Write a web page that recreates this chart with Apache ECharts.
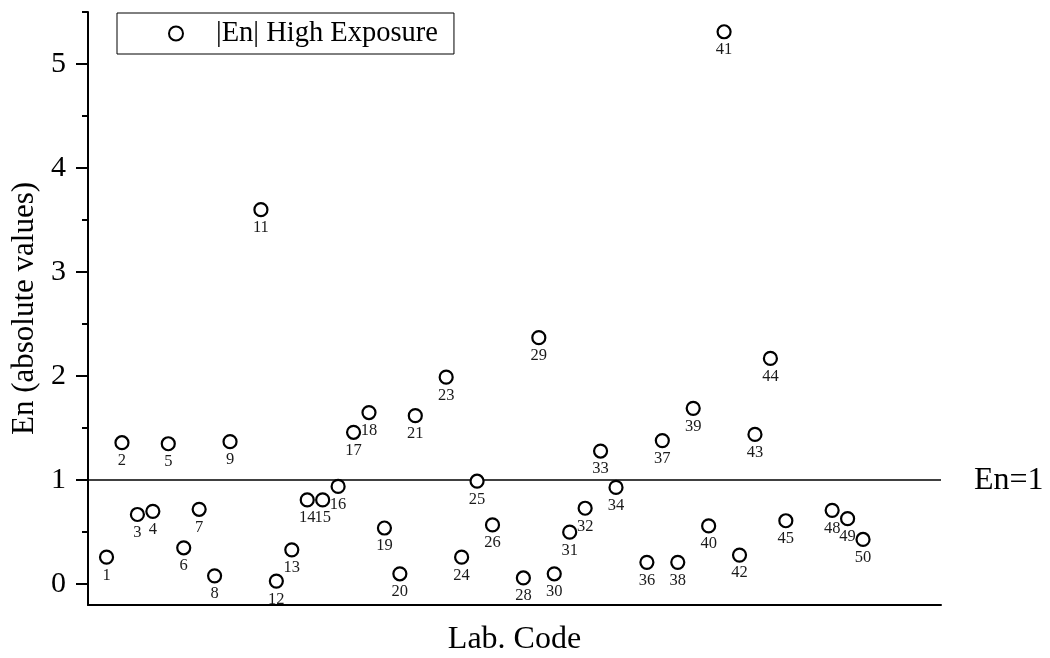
<!DOCTYPE html>
<html>
<head>
<meta charset="utf-8">
<script src="https://cdn.jsdelivr.net/npm/echarts@6/dist/echarts.min.js"></script>
<style>
  html, body { margin: 0; padding: 0; background: #fff; }
  #chart { width: 1050px; height: 658px; }
</style>
</head>
<body>
<div id="chart"></div>
<script>
// Laboratory codes that reported results (high exposure level)
const labCodes = [1, 2, 3, 4, 5, 6, 7, 8, 9, 11, 12, 13, 14, 15, 16, 17, 18, 19, 20, 21,
  23, 24, 25, 26, 28, 29, 30, 31, 32, 33, 34, 36, 37, 38, 39, 40, 41, 42, 43, 44, 45, 48, 49, 50];
// |En| score for each laboratory, same order as labCodes
const enValues = [0.26, 1.36, 0.67, 0.70, 1.35, 0.35, 0.72, 0.08, 1.37, 3.60, 0.03, 0.33, 0.81, 0.81,
  0.94, 1.46, 1.65, 0.54, 0.10, 1.62, 1.99, 0.26, 0.99, 0.57, 0.06, 2.37, 0.10, 0.50, 0.73, 1.28,
  0.93, 0.21, 1.38, 0.21, 1.69, 0.56, 5.31, 0.28, 1.44, 2.17, 0.61, 0.71, 0.63, 0.43];
// Acceptance limit
const enThreshold = 1;
// Y axis tick values
const yMajorTicks = [0, 1, 2, 3, 4, 5];
const yMinorTicks = [0.5, 1.5, 2.5, 3.5, 4.5, 5.5];

const seriesName = '|En| High Exposure';
const serif = '"Liberation Serif", "Times New Roman", serif';

const points = labCodes.map((code, i) => [code, enValues[i]]);

const chart = echarts.init(document.getElementById('chart'), null, { renderer: 'canvas' });

chart.setOption({
  animation: false,
  backgroundColor: '#fff',
  grid: { left: 88, right: 109, top: 12, bottom: 53, outerBoundsMode: 'none', containLabel: false },
  legend: {
    data: [seriesName],
    left: 117,
    top: 13,
    padding: [6, 16, 6, 51],
    borderColor: '#000',
    borderWidth: 1,
    itemWidth: 14,
    itemHeight: 14,
    selectedMode: false,
    itemStyle: { color: '#fff', borderColor: '#000', borderWidth: 2 },
    textStyle: { fontFamily: serif, fontSize: 28.5, color: '#000', padding: [0, 0, 0, 28] }
  },
  xAxis: {
    type: 'value',
    min: -0.2,
    max: 55.05,
    name: 'Lab. Code',
    nameLocation: 'middle',
    nameGap: 19,
    nameTextStyle: { fontFamily: serif, fontSize: 32, color: '#000' },
    axisLine: { show: true, onZero: false, lineStyle: { color: '#000', width: 2 } },
    axisTick: { show: false },
    axisLabel: { show: false },
    splitLine: { show: false }
  },
  yAxis: [
    {
      type: 'value',
      min: -0.2,
      max: 5.5,
      position: 'left',
      name: 'En (absolute values)',
      nameLocation: 'middle',
      nameGap: 41,
      nameTextStyle: { fontFamily: serif, fontSize: 31, color: '#000' },
      axisLine: { show: true, onZero: false, lineStyle: { color: '#000', width: 2 } },
      axisTick: { show: true, inside: false, length: 12, customValues: yMajorTicks,
        lineStyle: { color: '#000', width: 2 } },
      axisLabel: { customValues: yMajorTicks, margin: 22, fontFamily: serif, fontSize: 30, color: '#000' },
      splitLine: { show: false }
    },
    {
      type: 'value',
      min: -0.2,
      max: 5.5,
      position: 'left',
      axisLine: { show: false, onZero: false },
      axisTick: { show: true, inside: false, length: 6, customValues: yMinorTicks,
        lineStyle: { color: '#000', width: 2 } },
      axisLabel: { show: false },
      splitLine: { show: false }
    }
  ],
  series: [
    {
      name: seriesName,
      type: 'scatter',
      data: points,
      symbol: 'circle',
      symbolSize: 13,
      itemStyle: { color: '#fff', borderColor: '#000', borderWidth: 2.2, opacity: 1 },
      emphasis: { disabled: true },
      label: {
        show: true,
        position: 'bottom',
        distance: 2,
        formatter: p => String(p.value[0]),
        fontFamily: serif,
        fontSize: 16.5,
        color: '#1a1a1a'
      },
      markLine: {
        silent: true,
        symbol: 'none',
        z: 1,
        lineStyle: { color: '#000', width: 1.6, type: 'solid' },
        label: {
          show: true,
          position: 'end',
          distance: 33,
          formatter: 'En=' + enThreshold,
          fontFamily: serif,
          fontSize: 32,
          color: '#000'
        },
        data: [{ yAxis: enThreshold }]
      },
      z: 3
    }
  ]
});
</script>
</body>
</html>
